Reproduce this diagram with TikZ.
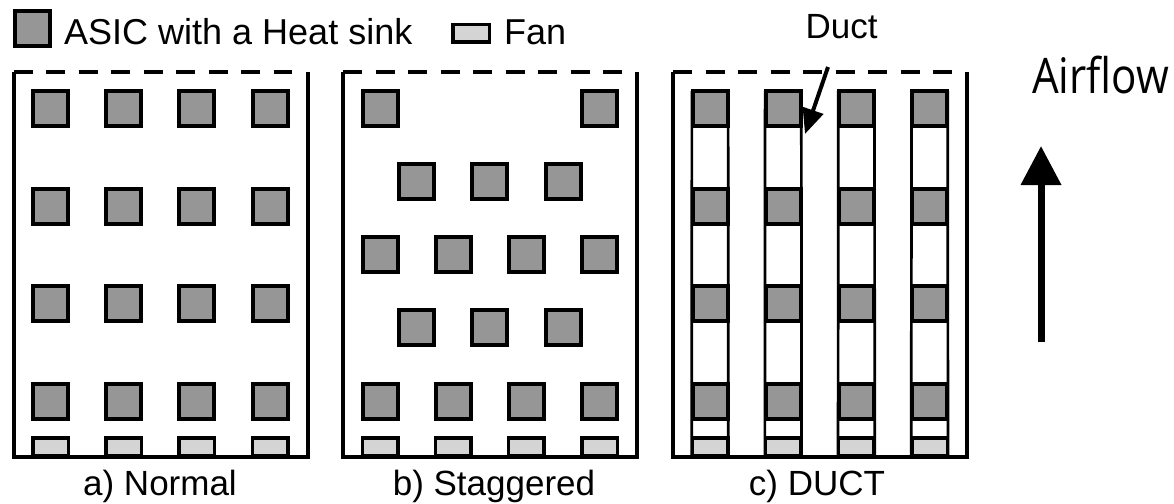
\documentclass[tikz,border=0pt]{standalone}
\usepackage{fontspec}
\setmainfont{Liberation Sans}
\newfontfamily\airfont{Open Sans}
\usetikzlibrary{arrows.meta}
\definecolor{asicgray}{RGB}{150,150,150}
\definecolor{fangray}{RGB}{212,212,212}
\pgfdeclarelayer{background}
\pgfsetlayers{background,main}
\begin{document}
\begin{tikzpicture}[x=1pt,y=-1pt,
  asic/.style={rectangle, draw=black, fill=asicgray, line width=4pt,
    minimum width=35pt, minimum height=35pt, inner sep=0pt, outer sep=0pt},
  fan/.style={rectangle, draw=black, fill=fangray, line width=3.5pt,
    minimum width=35.5pt, minimum height=17.5pt, inner sep=0pt, outer sep=0pt},
  wall/.style={line width=4pt, line join=miter},
  inlet/.style={line width=4pt, dash pattern=on 19pt off 13.5pt},
  duct/.style={line width=2.7pt},
  caption/.style={font=\fontsize{35}{42}\selectfont, inner sep=0pt, anchor=base},
  legendtext/.style={font=\fontsize{36}{43}\selectfont, inner sep=0pt, anchor=base west},
]
\useasboundingbox (0,0) rectangle (1174,503);

% legend
\node[asic] (legasic) at (32.5,28.5) {};
\node[legendtext] (legasictext) at (64,45) {ASIC with a Heat sink};
\node[fan, minimum width=36.5pt] (legfan) at (471,33.5) {};
\node[legendtext] (legfantext) at (504,45) {Fan};

% enclosures: solid walls, dashed outlet at the top
\foreach \L in {13.5,343,673} {
  \draw[wall] (\L,72) -- (\L,457) -- (\L+294,457) -- (\L+294,72);
  \draw[inlet] (\L,72) -- (\L+278.5,72);
}

% a) normal grid
\foreach \c in {0,...,3} {
  \foreach \r in {0,...,3}
    \node[asic] (a\r\c) at (50.5+73.2*\c, 108.5+97.5*\r) {};
  \node[fan] (fa\c) at (50.5+73.2*\c, 446.5) {};
}

% b) staggered rows
\foreach \c in {0,3}
  \node[asic] (b0\c) at (380+73.2*\c, 108.5) {};
\foreach \r in {2,4} {
  \foreach \c in {0,...,3}
    \node[asic] (b\r\c) at (380+73.2*\c, 108.5+73.125*\r) {};
}
\foreach \r in {1,3} {
  \foreach \c in {0,...,2}
    \node[asic] (b\r\c) at (416.6+73.2*\c, 108.5+73.125*\r) {};
}
\foreach \c in {0,...,3}
  \node[fan] (fb\c) at (380+73.2*\c, 446.5) {};

% c) ducted columns
\foreach \c in {0,...,3} {
  \foreach \r in {0,...,3}
    \node[asic] (c\r\c) at (710+73.2*\c, 108.5+97.5*\r) {};
  \node[fan] (fc\c) at (710+73.2*\c, 446.5) {};
  \begin{pgfonlayer}{background}
    \draw[duct] ([xshift=-0.6pt]c0\c.north west) -- ([xshift=-0.6pt]fc\c.south west);
    \draw[duct] ([xshift=0.6pt]c0\c.north east) -- ([xshift=0.6pt]fc\c.south east);
  \end{pgfonlayer}
}

% duct callout
\node[caption] (ductlabel) at (841.5,39) {Duct};
\coordinate (ducttail) at (828,67);
\coordinate (ducttip) at (805,134);
\draw[line width=4pt, -{Triangle[length=25pt,width=21pt]}] (ducttail) -- (ducttip);

% airflow direction
\node[inner sep=0pt, anchor=base west] (airlabel) at (1032,93)
  {\airfont\fontsize{49}{56}\selectfont\scalebox{0.86}[1]{Airflow}};
\coordinate (airfoot) at (1041,342);
\coordinate (airtip) at (1041,146);
\draw[line width=7pt, -{Triangle[length=39pt,width=39pt]}] (airfoot) -- (airtip);

% captions
\node[caption] (capa) at (160,495) {a) Normal};
\node[caption] (capb) at (494,495) {b) Staggered};
\node[caption] (capc) at (817,495) {c) DUCT};
\end{tikzpicture}
\end{document}
